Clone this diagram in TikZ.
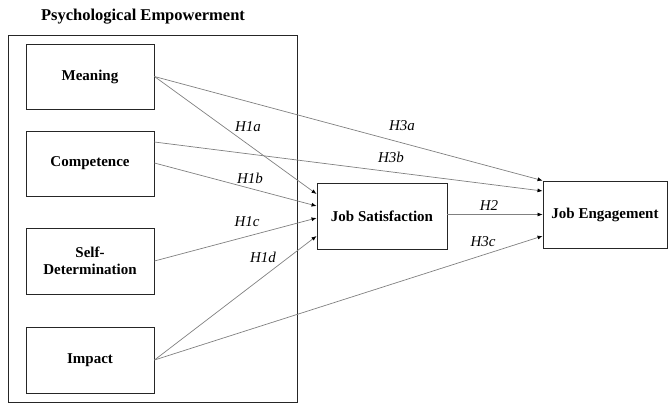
\documentclass[tikz,border=0pt]{standalone}
\usepackage{fontspec}
\setmainfont{Liberation Serif}
\usetikzlibrary{arrows.meta}
\begin{document}
\begin{tikzpicture}[x=1pt,y=-1pt,
  box/.style={draw=black!85, line width=0.9pt, inner sep=0pt, font=\fontsize{15}{17}\selectfont\bfseries, align=center},
  outerbox/.style={draw=black!85, line width=0.9pt, inner sep=0pt},
  conn/.style={draw=black!50, line width=0.7pt, -{Latex[length=5pt,width=4pt,black]}},
  lab/.style={font=\fontsize{15}{17}\selectfont\itshape, inner sep=0pt},
  ttl/.style={font=\fontsize{16.5}{18}\selectfont\bfseries, inner sep=0pt}]
\useasboundingbox (0,0) rectangle (668,405);
\node[outerbox, minimum width=289pt, minimum height=367pt] (pe) at (152.5,218.5) {};
\node[ttl] (title) at (143,17) {Psychological Empowerment};
\node[box, minimum width=128pt, minimum height=65pt] (m) at (90,76.5) {Meaning};
\node[box, minimum width=128pt, minimum height=65pt] (c) at (90,163.5) {Competence};
\node[box, minimum width=128pt, minimum height=66pt] (sd) at (90,261) {Self-\\Determination};
\node[box, minimum width=128pt, minimum height=66pt] (im) at (90,360) {Impact};
\node[box, minimum width=130pt, minimum height=66pt] (js) at (382,216) {Job Satisfaction};
\node[box, minimum width=124pt, minimum height=67pt] (je) at (605,214.5) {Job Engagement};
% H1
\draw[conn] (m.east) -- ([yshift=22pt]js.west);
\draw[conn] ([yshift=0.5pt]c.east) -- ([yshift=10pt]js.west);
\draw[conn] (sd.east) -- ([yshift=-2pt]js.west);
\draw[conn] (im.east) -- ([yshift=-20pt]js.west);
% H3
\draw[conn] (m.east) -- (je.north west);
\draw[conn] ([yshift=21.5pt]c.east) -- ([yshift=23.5pt]je.west);
\draw[conn] (im.east) -- ([yshift=-21.5pt]je.west);
% H2
\draw[conn] ([yshift=1.5pt]js.east) -- (je.west);
\node[lab] (h1a) at (248,127) {H1a};
\node[lab] (h1b) at (250,178) {H1b};
\node[lab] (h1c) at (247,222) {H1c};
\node[lab] (h1d) at (263,257) {H1d};
\node[lab] (h3a) at (402,126) {H3a};
\node[lab] (h3b) at (391,157) {H3b};
\node[lab] (h2) at (489,206) {H2};
\node[lab] (h3c) at (483,242) {H3c};
\end{tikzpicture}
\end{document}
